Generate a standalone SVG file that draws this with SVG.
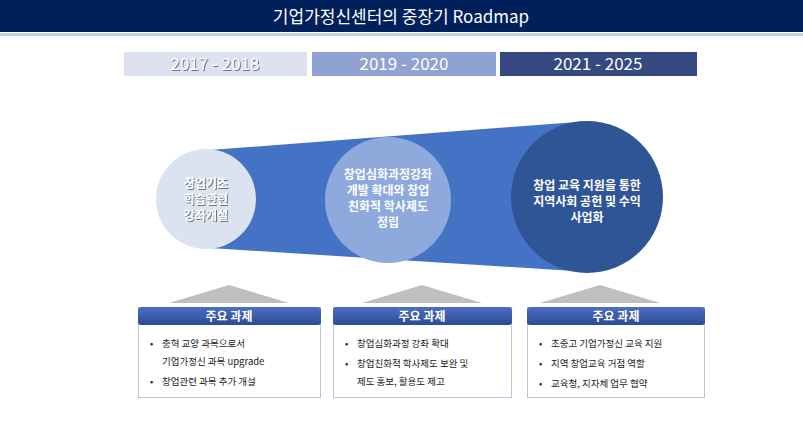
<svg xmlns="http://www.w3.org/2000/svg" width="803" height="430" viewBox="0 0 803 430">
<defs>
<style>
text{font-family:"Noto Sans CJK KR","Noto Sans",sans-serif}
.yr{font-size:17px;text-anchor:middle;fill:#fff}
.ct{font-size:12px;text-anchor:middle;fill:#fff;font-weight:bold}
.sh{filter:url(#ds)}
.hd{font-size:12px;text-anchor:middle;fill:#fff;font-weight:bold}
.it{font-size:9.5px;fill:#222}
.box{fill:#fff;stroke:#b9c6e0;stroke-width:1}
.tri{fill:#bfbfbf}
</style>
<filter id="ds" x="-10%" y="-30%" width="120%" height="160%"><feDropShadow dx="1" dy="1" stdDeviation="0.6" flood-color="#5a6680" flood-opacity="0.9"/></filter>
<linearGradient id="hg" x1="0" y1="0" x2="0" y2="1"><stop offset="0" stop-color="#4a6fc2"/><stop offset="1" stop-color="#2c4a94"/></linearGradient>
</defs>
<rect width="803" height="430" fill="#fff"/>
<g id="title">
<rect x="0" y="0" width="803" height="32" fill="#00205b"/>
<rect x="0" y="33" width="803" height="3" fill="#c5cfe2"/>
<text x="401" y="23" font-size="17" text-anchor="middle" fill="#fff">기업가정신센터의 중장기 Roadmap</text>
</g>
<g id="years">
<rect x="124" y="52" width="183" height="24" fill="#dde2f1"/>
<text class="yr sh" x="215" y="70">2017 - 2018</text>
<rect x="312" y="52" width="184" height="24" fill="#8fa2d2"/>
<text class="yr" x="404" y="70">2019 - 2020</text>
<rect x="500" y="52" width="197" height="24" fill="#344a80"/>
<text class="yr" x="598" y="70">2021 - 2025</text>
</g>
<g id="cone"><polygon points="210,150 590,121 590,272 210,248" fill="#4472c4"/></g>
<g id="c1"><circle cx="206" cy="199" r="50" fill="#dbe3f1"/>
<text class="ct sh"><tspan x="206" y="188">창업기초</tspan><tspan x="206" y="204">학습관련</tspan><tspan x="206" y="220">강좌개설</tspan></text></g>
<g id="c2"><circle cx="388" cy="200" r="63" fill="#8ea9db"/>
<text class="ct"><tspan x="388" y="179">창업심화과정강좌</tspan><tspan x="388" y="195">개발 확대와 창업</tspan><tspan x="388" y="211">친화적 학사제도</tspan><tspan x="388" y="227">정립</tspan></text></g>
<g id="c3"><circle cx="587" cy="197" r="76" fill="#2f5597"/>
<text class="ct"><tspan x="587" y="190">창업 교육 지원을 통한</tspan><tspan x="587" y="206">지역사회 공헌 및 수익</tspan><tspan x="587" y="222">사업화</tspan></text></g>
<g id="task1">
<polygon class="tri" points="229,285 169,303 289,303"/>
<rect class="box" x="138.5" y="307.5" width="182" height="90"/>
<rect x="138" y="307" width="183" height="18" rx="3" fill="url(#hg)"/>
<text class="hd" x="229" y="321">주요 과제</text>
<text class="it" x="150" y="347">•</text><text class="it" x="162" y="347">충혁 교양 과목으로서</text>
<text class="it" x="162" y="365">기업가정신 과목 upgrade</text>
<text class="it" x="150" y="385">•</text><text class="it" x="162" y="385">창업관련 과목 추가 개설</text>
</g>
<g id="task2">
<polygon class="tri" points="422,285 362,303 482,303"/>
<rect class="box" x="333.5" y="307.5" width="178" height="90"/>
<rect x="333" y="307" width="179" height="18" rx="3" fill="url(#hg)"/>
<text class="hd" x="422" y="321">주요 과제</text>
<text class="it" x="345" y="347">•</text><text class="it" x="357" y="347">창업심화과정 강좌 확대</text>
<text class="it" x="345" y="367">•</text><text class="it" x="357" y="367">창업친화적 학사제도 보완 및</text>
<text class="it" x="357" y="385">제도 홍보, 활용도 제고</text>
</g>
<g id="task3">
<polygon class="tri" points="600,285 540,303 660,303"/>
<rect class="box" x="527.5" y="307.5" width="177" height="90"/>
<rect x="527" y="307" width="178" height="18" rx="3" fill="url(#hg)"/>
<text class="hd" x="616" y="321">주요 과제</text>
<text class="it" x="539" y="347">•</text><text class="it" x="551" y="347">초중고 기업가정신 교육 지원</text>
<text class="it" x="539" y="367">•</text><text class="it" x="551" y="367">지역 창업교육 거점 역할</text>
<text class="it" x="539" y="387">•</text><text class="it" x="551" y="387">교육청, 지자체 업무 협약</text>
</g>
<g id="connectors"/>
</svg>
